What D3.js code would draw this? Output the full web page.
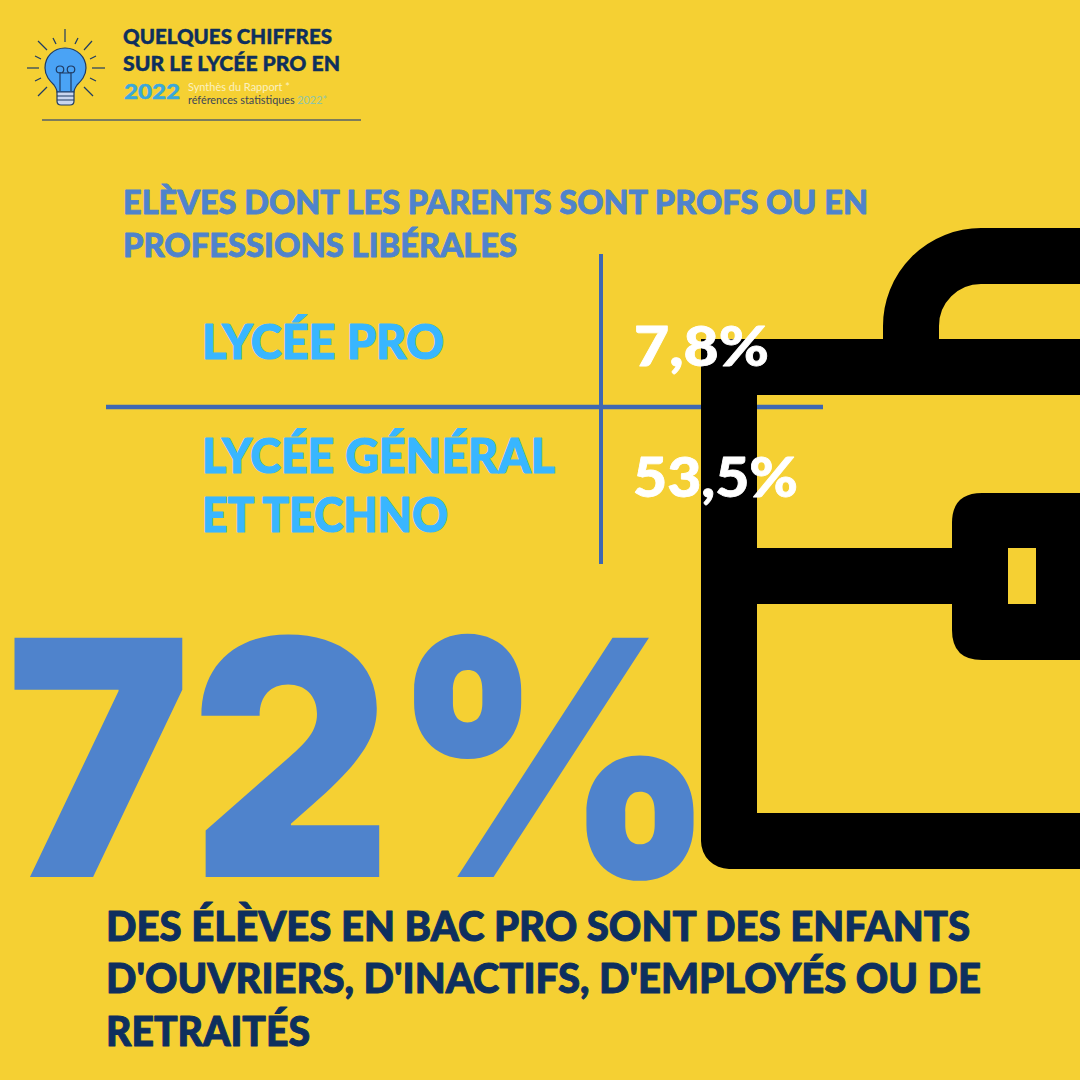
<!DOCTYPE html>
<html><head><meta charset="utf-8">
<script src="https://cdn.jsdelivr.net/npm/d3@7/dist/d3.min.js"></script>
<style>html,body{margin:0;padding:0;background:#F5D033}svg{display:block}text{font-family:Lato,"Open Sans",sans-serif;font-weight:900}</style>
</head><body><svg id="c" width="1080" height="1080"></svg>
<script>
const headerLines = ["QUELQUES CHIFFRES","SUR LE LYCÉE PRO EN"];
const headerYear = "2022";
const subtitleTop = "Synthès du Rapport *";
const subtitleBottom = "références statistiques ";
const subtitleYear = "2022*";
const sectionTitle = ["ELÈVES DONT LES PARENTS SONT PROFS OU EN","PROFESSIONS LIBÉRALES"];
const categories = [["LYCÉE PRO"],["LYCÉE GÉNÉRAL","ET TECHNO"]];
const values = [7.8,53.5];
const bigValue = 72;
const caption = ["DES ÉLÈVES EN BAC PRO SONT DES ENFANTS","D'OUVRIERS, D'INACTIFS, D'EMPLOYÉS OU DE","RETRAITÉS"];
const frFormat = v => String(v).replace(".",",")+"%";

const svg = d3.select("#c");
svg.append("rect").attr("width",1080).attr("height",1080).attr("fill","#F5D033");
const navy="#0E2F5E", blue="#4F83CC", sky="#38B6FF", rule="#3F68B2";
function T(s,x,y,size,fill,w,bold){
  const t=svg.append("text").attr("x",x).attr("y",y).attr("font-size",size).attr("fill",fill).text(s);
  if(w){t.attr("textLength",w).attr("lengthAdjust","spacingAndGlyphs");}
  if(bold){t.attr("stroke",fill).attr("stroke-width",bold).attr("stroke-linejoin","round");}
  return t;
}
// table rules (below the briefcase)
svg.append("line").attr("x1",106).attr("x2",823).attr("y1",407).attr("y2",407).attr("stroke",rule).attr("stroke-width",4.5);
svg.append("line").attr("x1",601).attr("x2",601).attr("y1",254).attr("y2",564).attr("stroke",rule).attr("stroke-width",4);

// briefcase
const bc=svg.append("g").attr("fill","none").attr("stroke","#000").attr("stroke-width",56);
bc.append("path").attr("d","M911 345V326A70 70 0 0 1 981 256H1110");
bc.append("path").attr("d","M1110 367H701");
bc.append("path").attr("stroke-linejoin","round").attr("d","M729 367V841H1110");
bc.append("path").attr("d","M729 576H1000");
svg.append("path").attr("fill","#000").attr("d","M1090 493H982Q952 493 952 523V630Q952 660 982 660H1090Z");
svg.append("rect").attr("x",1008).attr("y",548).attr("width",28).attr("height",56).attr("fill","#F5D033");

// header icon
const ic=svg.append("g").attr("stroke","#1F3B63").attr("stroke-width",1.2);
[[65,29,65,42],[38,41,47,50],[92,41,84,50],[27,68,39,68],[92,68,105,68],[38,96,47,87],[93,96,84,87],[53,38,56,44],[78,38,75,44],[35,56,41,59],[96,56,90,59],[35,81,41,78],[96,81,90,78]]
 .forEach(d=>ic.append("line").attr("x1",d[0]).attr("y1",d[1]).attr("x2",d[2]).attr("y2",d[3]));
ic.append("path").attr("fill","#4AA3F5").attr("d","M65 48C53 48 45 57 45 68C45 76 50 81 54 85C56 88 57 90 57 92H74C74 90 75 88 77 85C81 81 86 76 86 68C86 57 77 48 65 48Z");
ic.append("path").attr("fill","#C9D6EE").attr("d","M57 92H74V101Q74 105 70 105H61Q57 105 57 101Z");
ic.append("path").attr("fill","none").attr("d","M57 96H74M57 100H74M60 91V72M71 91V72M60 73C55 73 55 66 60 66C65 66 65 73 60 73M71 73C66 73 66 66 71 66C76 66 76 73 71 73M60 73H71");

T(headerLines[0],123,44,20.5,navy,209,.4);
T(headerLines[1],123,71,20.5,navy,217,.4);
T(headerYear,124,99,21,"#3AA8DC",56,.4);
T(subtitleTop,188,91,11,"#FBF0C0",102).style("font-weight",400);
const sb=T(subtitleBottom,188,104,11,"#3b4658").style("font-weight",400).attr("textLength",139).attr("lengthAdjust","spacingAndGlyphs");
sb.append("tspan").attr("fill","#8FC5A8").text(subtitleYear);
svg.append("line").attr("x1",42).attr("x2",361).attr("y1",120).attr("y2",120).attr("stroke","#55606a").attr("stroke-width",1.6);

T(sectionTitle[0],123,214,33,blue,745,.8);
T(sectionTitle[1],123,257,33,blue,394,.8);
T(categories[0][0],202,359,47,sky,242,1.2);
T(categories[1][0],202,473,47,sky,353,1.2);
T(categories[1][1],202,532,47,sky,246,1.2);
T(frFormat(values[0]),634,366,55,"#fff",135,.8);
T(frFormat(values[1]),633,497,55,"#fff",165,.8);
T(bigValue+"%",6,877,329,blue,710).style("font-family","Inter");
T(caption[0],106,941,41,navy,864,1);
T(caption[1],106,993,41,navy,875,1);
T(caption[2],106,1046,41,navy,204,1);
</script></body></html>
